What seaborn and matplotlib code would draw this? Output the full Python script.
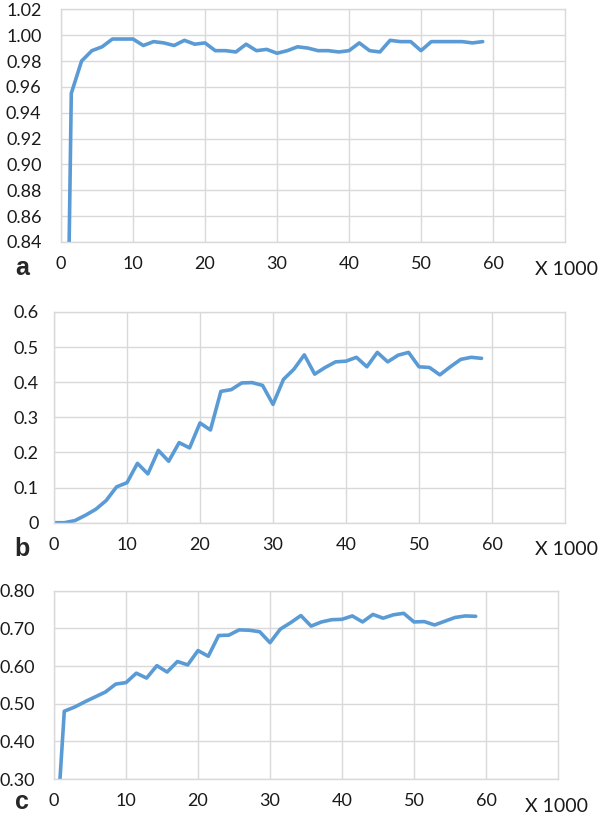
import matplotlib
matplotlib.use("Agg")
import matplotlib.pyplot as plt
import seaborn as sns
import pandas as pd

# x positions (thousands) shared by the three panels
steps = [0, 1.43, 2.86, 4.29, 5.71, 7.14, 8.57, 10.0, 11.43, 12.86, 14.29,
         15.71, 17.14, 18.57, 20.0, 21.43, 22.86, 24.29, 25.71, 27.14, 28.57,
         30.0, 31.43, 32.86, 34.29, 35.71, 37.14, 38.57, 40.0, 41.43, 42.86,
         44.29, 45.71, 47.14, 48.57, 50.0, 51.43, 52.86, 54.29, 55.71, 57.14,
         58.57]

vals_a = [0.40, 0.955, 0.980, 0.988, 0.991, 0.997, 0.997, 0.997, 0.992, 0.995,
          0.994, 0.992, 0.996, 0.993, 0.994, 0.988, 0.988, 0.987, 0.993, 0.988,
          0.989, 0.986, 0.988, 0.991, 0.990, 0.988, 0.988, 0.987, 0.988, 0.994,
          0.988, 0.987, 0.996, 0.995, 0.995, 0.988, 0.995, 0.995, 0.995, 0.995,
          0.994, 0.995]

vals_b = [0, 0, 0.006, 0.021, 0.038, 0.063, 0.102, 0.114, 0.169, 0.139,
          0.206, 0.175, 0.228, 0.213, 0.284, 0.264, 0.374, 0.379, 0.398, 0.399,
          0.391, 0.337, 0.408, 0.437, 0.478, 0.423, 0.442, 0.458, 0.460, 0.471,
          0.444, 0.485, 0.458, 0.477, 0.485, 0.444, 0.442, 0.421, 0.444, 0.465,
          0.471, 0.468]

vals_c = [0.05, 0.480, 0.491, 0.505, 0.518, 0.531, 0.552, 0.556, 0.581, 0.568,
          0.601, 0.584, 0.612, 0.603, 0.641, 0.626, 0.681, 0.682, 0.696, 0.695,
          0.691, 0.662, 0.698, 0.715, 0.734, 0.706, 0.717, 0.723, 0.724, 0.733,
          0.717, 0.737, 0.727, 0.736, 0.740, 0.717, 0.718, 0.709, 0.719, 0.729,
          0.733, 0.732]

x_ticks = [0, 10, 20, 30, 40, 50, 60]
yticks_a = [0.84, 0.86, 0.88, 0.90, 0.92, 0.94, 0.96, 0.98, 1.00, 1.02]
yticks_b = [0, 0.1, 0.2, 0.3, 0.4, 0.5, 0.6]
yticks_c = [0.30, 0.40, 0.50, 0.60, 0.70, 0.80]
ylabels_a = [f"{v:.2f}" for v in yticks_a]
ylabels_b = ["0", "0.1", "0.2", "0.3", "0.4", "0.5", "0.6"]
ylabels_c = [f"{v:.2f}" for v in yticks_c]

sns.set_style("whitegrid")
plt.rcParams["font.family"] = ["Lato", "DejaVu Sans"]

LINE = "#5b9bd5"
GRID = "#d9d9d9"
W, H = 600, 814

fig = plt.figure(figsize=(6, 8.14), dpi=100)
fig.patch.set_facecolor("white")


def px_rect(left, top, right, bottom):
    return [left / W, 1 - bottom / H, (right - left) / W, (bottom - top) / H]


# letter, values, ticks, labels, axes rect, y-label pad, letter offset, note right edge
panels = [
    ("a", vals_a, yticks_a, ylabels_a, px_rect(61, 9.3, 565, 242), 14, 26, 598),
    ("b", vals_b, yticks_b, ylabels_b, px_rect(54, 312, 565, 522.7), 11, 26, 598),
    ("c", vals_c, yticks_c, ylabels_c, px_rect(54, 590.7, 558, 779), 14, 23, 588),
]

for letter, vals, yt, yl, rect, ypad, lab_dy, note_x in panels:
    ax = fig.add_axes(rect)
    df = pd.DataFrame({"x": steps, "y": vals})
    sns.lineplot(data=df, x="x", y="y", ax=ax, color=LINE, linewidth=2.6)
    ax.set_xlim(0, 70)
    ax.set_ylim(yt[0], yt[-1])
    ax.set_xticks(x_ticks)
    ax.set_xticklabels([str(t) for t in x_ticks])
    ax.set_yticks(yt)
    ax.set_yticklabels(yl)
    ax.set_xlabel("")
    ax.set_ylabel("")
    ax.grid(True, color=GRID, linewidth=1.0)
    for s in ax.spines.values():
        s.set_color(GRID)
        s.set_linewidth(1.0)
    ax.tick_params(axis="x", length=0, pad=10, labelsize=13, labelcolor="#1a1a1a")
    ax.tick_params(axis="y", length=0, pad=ypad, labelsize=13, labelcolor="#1a1a1a")

    # panel letter and x-scale note
    bottom_px = (1 - rect[1]) * H
    fig.text(22 / W, 1 - (bottom_px + lab_dy) / H, letter, fontsize=18,
             fontweight="bold", family=["Liberation Sans", "DejaVu Sans"],
             ha="center", va="center")
    fig.text(note_x / W, 1 - (bottom_px + 27) / H, "X 1000", fontsize=14,
             ha="right", va="center", color="#1a1a1a")

fig.savefig("out.png", dpi=100, facecolor="white")
